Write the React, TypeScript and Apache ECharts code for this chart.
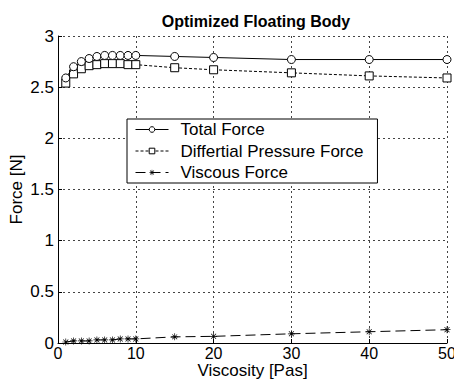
import React, { useEffect, useRef } from "react";
import * as echarts from "echarts";

const viscosity = [1, 2, 3, 4, 5, 6, 7, 8, 9, 10, 15, 20, 30, 40, 50];
const totalForce = [2.59, 2.7, 2.75, 2.78, 2.8, 2.81, 2.81, 2.81, 2.81, 2.81, 2.8, 2.79, 2.77, 2.77, 2.77];
const pressureForce = [2.54, 2.63, 2.68, 2.71, 2.72, 2.73, 2.73, 2.73, 2.72, 2.72, 2.69, 2.67, 2.64, 2.61, 2.59];
const viscousForce = [0.01, 0.02, 0.02, 0.02, 0.03, 0.03, 0.03, 0.04, 0.04, 0.04, 0.06, 0.065, 0.09, 0.11, 0.13];

const seriesNames = ["Total Force", "Differtial Pressure Force", "Viscous Force"];

const FONT = "Arial, 'Liberation Sans', sans-serif";
const STAR =
  "path://M9,0L11,0L11,7.6L16.4,2.2L17.8,3.6L12.4,9L20,9L20,11L12.4,11L17.8,16.4L16.4,17.8L11,12.4L11,20L9,20L9,12.4L3.6,17.8L2.2,16.4L7.6,11L0,11L0,9L7.6,9L2.2,3.6L3.6,2.2L9,7.6Z";

export default function App() {
  const ref = useRef<HTMLDivElement>(null);
  useEffect(() => {
    const chart = echarts.init(ref.current!, null, { renderer: "svg" });
    const pair = (ys: number[]) => viscosity.map((x, i) => [x, ys[i]]);
    chart.setOption({
      animation: false,
      backgroundColor: "#ffffff",
      title: {
        text: "Optimized Floating Body",
        left: 251,
        textAlign: "center",
        top: 8,
        textStyle: { fontFamily: FONT, fontSize: 16, fontWeight: "bold", color: "#000" },
      },
      grid: { left: 58, right: 7, top: 36, bottom: 42, containLabel: false, outerBoundsMode: "none" },
      legend: {
        orient: "vertical",
        left: 127,
        top: 119,
        padding: [2, 14, 2, 8],
        itemGap: 4.5,
        itemWidth: 33,
        itemHeight: 7,
        backgroundColor: "#fff",
        borderColor: "#000",
        borderWidth: 1,
        borderRadius: 0,
        lineStyle: { width: 1 },
        itemStyle: { borderWidth: 1 },
        textStyle: { fontFamily: FONT, fontSize: 17, color: "#000", padding: [0, 0, 0, 7] },
        data: seriesNames,
      },
      xAxis: {
        type: "value",
        min: 0,
        max: 50,
        interval: 10,
        name: "Viscosity [Pas]",
        nameLocation: "middle",
        nameGap: 19,
        nameMoveOverlap: false,
        nameTextStyle: { fontFamily: FONT, fontSize: 17, color: "#000" },
        axisLine: { lineStyle: { color: "#000", width: 1 } },
        axisTick: { inside: true, length: 4, lineStyle: { color: "#000" } },
        axisLabel: { fontFamily: FONT, fontSize: 16, color: "#000", margin: 2 },
        splitLine: { lineStyle: { color: "#444", type: [2, 3], width: 1 } },
      },
      yAxis: {
        type: "value",
        min: 0,
        max: 3,
        interval: 0.5,
        name: "Force [N]",
        nameLocation: "middle",
        nameGap: 33,
        nameMoveOverlap: false,
        nameTextStyle: { fontFamily: FONT, fontSize: 17, color: "#000" },
        axisLine: { show: true, lineStyle: { color: "#000", width: 1 } },
        axisTick: { show: true, inside: true, length: 4, lineStyle: { color: "#000" } },
        axisLabel: { fontFamily: FONT, fontSize: 17, color: "#000", margin: 4 },
        splitLine: { lineStyle: { color: "#444", type: [2, 3], width: 1 } },
      },
      series: [
        {
          name: seriesNames[0],
          type: "line",
          data: pair(totalForce),
          symbol: "circle",
          symbolSize: 8,
          showAllSymbol: true,
          lineStyle: { color: "#000", width: 1, type: "solid" },
          itemStyle: { color: "#fff", borderColor: "#000", borderWidth: 1 },
          z: 3,
        },
        {
          name: seriesNames[1],
          type: "line",
          data: pair(pressureForce),
          symbol: "rect",
          symbolSize: 8,
          showAllSymbol: true,
          lineStyle: { color: "#000", width: 1, type: [3, 2] },
          itemStyle: { color: "#fff", borderColor: "#000", borderWidth: 1 },
          z: 2,
        },
        {
          name: seriesNames[2],
          type: "line",
          data: pair(viscousForce),
          symbol: STAR,
          symbolSize: 7,
          showAllSymbol: true,
          lineStyle: { color: "#000", width: 1, type: [10, 5] },
          itemStyle: { color: "#000", borderWidth: 0 },
          z: 2,
        },
      ],
    });
    return () => chart.dispose();
  }, []);
  return <div ref={ref} style={{ width: 454, height: 385, position: "absolute", left: 0, top: 0 }} />;
}
